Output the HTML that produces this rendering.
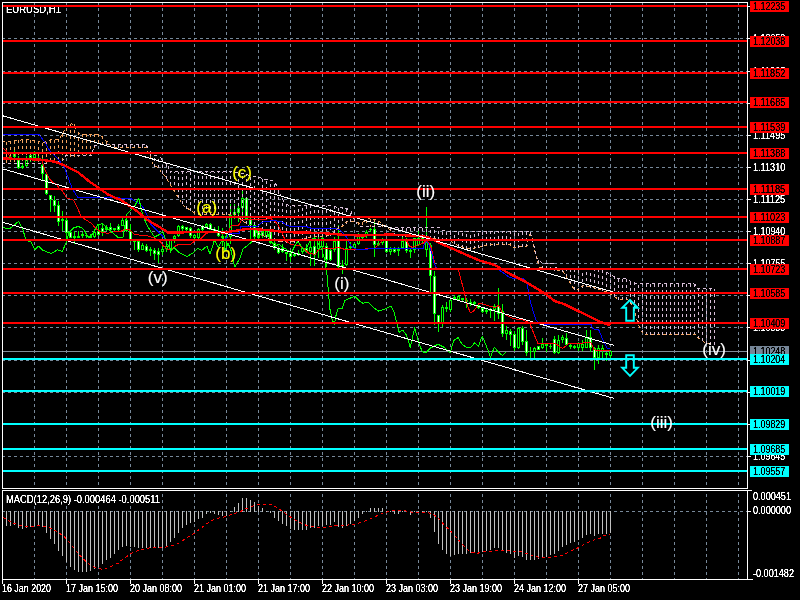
<!DOCTYPE html>
<html><head><meta charset="utf-8"><title>EURUSD,H1</title>
<style>html,body{margin:0;padding:0;background:#000;width:800px;height:600px;overflow:hidden}svg{display:block;will-change:transform}</style>
</head><body>
<svg width="800" height="600" viewBox="0 0 800 600">
<defs><filter id="th" x="0" y="0" width="1" height="1" filterUnits="objectBoundingBox" color-interpolation-filters="sRGB"><feComponentTransfer><feFuncA type="table" tableValues="0 0.05 0.75 1 1 1"/></feComponentTransfer></filter></defs>
<rect width="800" height="600" fill="#000000"/>
<g stroke="#778899" stroke-width="1" stroke-dasharray="3 3" shape-rendering="crispEdges">
<line x1="34.5" y1="2" x2="34.5" y2="488"/>
<line x1="34.5" y1="488" x2="34.5" y2="579"/>
<line x1="66.5" y1="2" x2="66.5" y2="488"/>
<line x1="66.5" y1="488" x2="66.5" y2="579"/>
<line x1="98.5" y1="2" x2="98.5" y2="488"/>
<line x1="98.5" y1="488" x2="98.5" y2="579"/>
<line x1="130.5" y1="2" x2="130.5" y2="488"/>
<line x1="130.5" y1="488" x2="130.5" y2="579"/>
<line x1="162.5" y1="2" x2="162.5" y2="488"/>
<line x1="162.5" y1="488" x2="162.5" y2="579"/>
<line x1="194.5" y1="2" x2="194.5" y2="488"/>
<line x1="194.5" y1="488" x2="194.5" y2="579"/>
<line x1="226.5" y1="2" x2="226.5" y2="488"/>
<line x1="226.5" y1="488" x2="226.5" y2="579"/>
<line x1="258.5" y1="2" x2="258.5" y2="488"/>
<line x1="258.5" y1="488" x2="258.5" y2="579"/>
<line x1="290.5" y1="2" x2="290.5" y2="488"/>
<line x1="290.5" y1="488" x2="290.5" y2="579"/>
<line x1="322.5" y1="2" x2="322.5" y2="488"/>
<line x1="322.5" y1="488" x2="322.5" y2="579"/>
<line x1="354.5" y1="2" x2="354.5" y2="488"/>
<line x1="354.5" y1="488" x2="354.5" y2="579"/>
<line x1="386.5" y1="2" x2="386.5" y2="488"/>
<line x1="386.5" y1="488" x2="386.5" y2="579"/>
<line x1="418.5" y1="2" x2="418.5" y2="488"/>
<line x1="418.5" y1="488" x2="418.5" y2="579"/>
<line x1="450.5" y1="2" x2="450.5" y2="488"/>
<line x1="450.5" y1="488" x2="450.5" y2="579"/>
<line x1="482.5" y1="2" x2="482.5" y2="488"/>
<line x1="482.5" y1="488" x2="482.5" y2="579"/>
<line x1="514.5" y1="2" x2="514.5" y2="488"/>
<line x1="514.5" y1="488" x2="514.5" y2="579"/>
<line x1="546.5" y1="2" x2="546.5" y2="488"/>
<line x1="546.5" y1="488" x2="546.5" y2="579"/>
<line x1="578.5" y1="2" x2="578.5" y2="488"/>
<line x1="578.5" y1="488" x2="578.5" y2="579"/>
<line x1="610.5" y1="2" x2="610.5" y2="488"/>
<line x1="610.5" y1="488" x2="610.5" y2="579"/>
<line x1="642.5" y1="2" x2="642.5" y2="488"/>
<line x1="642.5" y1="488" x2="642.5" y2="579"/>
<line x1="674.5" y1="2" x2="674.5" y2="488"/>
<line x1="674.5" y1="488" x2="674.5" y2="579"/>
<line x1="706.5" y1="2" x2="706.5" y2="488"/>
<line x1="706.5" y1="488" x2="706.5" y2="579"/>
<line x1="738.5" y1="2" x2="738.5" y2="488"/>
<line x1="738.5" y1="488" x2="738.5" y2="579"/>
<line x1="2" y1="38.5" x2="747" y2="38.5"/>
<line x1="2" y1="71.5" x2="747" y2="71.5"/>
<line x1="2" y1="103.5" x2="747" y2="103.5"/>
<line x1="2" y1="135.5" x2="747" y2="135.5"/>
<line x1="2" y1="167.5" x2="747" y2="167.5"/>
<line x1="2" y1="199.5" x2="747" y2="199.5"/>
<line x1="2" y1="231.5" x2="747" y2="231.5"/>
<line x1="2" y1="263.5" x2="747" y2="263.5"/>
<line x1="2" y1="295.5" x2="747" y2="295.5"/>
<line x1="2" y1="327.5" x2="747" y2="327.5"/>
<line x1="2" y1="360.5" x2="747" y2="360.5"/>
<line x1="2" y1="392.5" x2="747" y2="392.5"/>
<line x1="2" y1="424.5" x2="747" y2="424.5"/>
<line x1="2" y1="456.5" x2="747" y2="456.5"/>
<line x1="2" y1="511.5" x2="747" y2="511.5"/>
</g>
<rect x="3" y="351" width="744" height="1" fill="#808C98"/>
<g shape-rendering="crispEdges">
<rect x="6" y="155" width="1" height="5" fill="#00FF00"/>
<rect x="5" y="157" width="3" height="2" fill="#00FF00"/>
<rect x="10" y="156" width="1" height="4" fill="#00FF00"/>
<rect x="9" y="157" width="3" height="2" fill="#00FF00"/>
<rect x="14" y="149" width="1" height="10" fill="#00FF00"/>
<rect x="13" y="154" width="3" height="3" fill="#00FF00"/>
<rect x="14" y="155" width="1" height="1" fill="#FFFFFF"/>
<rect x="18" y="156" width="1" height="13" fill="#00FF00"/>
<rect x="17" y="160" width="3" height="8" fill="#00FF00"/>
<rect x="18" y="161" width="1" height="6" fill="#FFFFFF"/>
<rect x="22" y="164" width="1" height="5" fill="#00FF00"/>
<rect x="21" y="166" width="3" height="2" fill="#00FF00"/>
<rect x="26" y="156" width="1" height="11" fill="#00FF00"/>
<rect x="25" y="160" width="3" height="6" fill="#00FF00"/>
<rect x="26" y="161" width="1" height="4" fill="#000000"/>
<rect x="30" y="154" width="1" height="8" fill="#00FF00"/>
<rect x="29" y="155" width="3" height="3" fill="#00FF00"/>
<rect x="30" y="156" width="1" height="1" fill="#FFFFFF"/>
<rect x="34" y="151" width="1" height="11" fill="#00FF00"/>
<rect x="33" y="154" width="3" height="4" fill="#00FF00"/>
<rect x="34" y="155" width="1" height="2" fill="#000000"/>
<rect x="38" y="154" width="1" height="8" fill="#00FF00"/>
<rect x="37" y="158" width="3" height="2" fill="#00FF00"/>
<rect x="42" y="157" width="1" height="23" fill="#00FF00"/>
<rect x="41" y="165" width="3" height="9" fill="#00FF00"/>
<rect x="42" y="166" width="1" height="7" fill="#FFFFFF"/>
<rect x="46" y="173" width="1" height="22" fill="#00FF00"/>
<rect x="45" y="174" width="3" height="20" fill="#00FF00"/>
<rect x="46" y="175" width="1" height="18" fill="#FFFFFF"/>
<rect x="50" y="195" width="1" height="17" fill="#00FF00"/>
<rect x="49" y="195" width="3" height="5" fill="#00FF00"/>
<rect x="50" y="196" width="1" height="3" fill="#FFFFFF"/>
<rect x="54" y="196" width="1" height="16" fill="#00FF00"/>
<rect x="53" y="200" width="3" height="6" fill="#00FF00"/>
<rect x="54" y="201" width="1" height="4" fill="#FFFFFF"/>
<rect x="58" y="201" width="1" height="25" fill="#00FF00"/>
<rect x="57" y="205" width="3" height="17" fill="#00FF00"/>
<rect x="58" y="206" width="1" height="15" fill="#FFFFFF"/>
<rect x="62" y="211" width="1" height="20" fill="#00FF00"/>
<rect x="61" y="219" width="3" height="2" fill="#00FF00"/>
<rect x="66" y="218" width="1" height="21" fill="#00FF00"/>
<rect x="65" y="220" width="3" height="13" fill="#00FF00"/>
<rect x="66" y="221" width="1" height="11" fill="#FFFFFF"/>
<rect x="70" y="231" width="1" height="7" fill="#00FF00"/>
<rect x="69" y="232" width="3" height="6" fill="#00FF00"/>
<rect x="70" y="233" width="1" height="4" fill="#FFFFFF"/>
<rect x="74" y="231" width="1" height="13" fill="#00FF00"/>
<rect x="73" y="236" width="3" height="2" fill="#00FF00"/>
<rect x="78" y="231" width="1" height="7" fill="#00FF00"/>
<rect x="77" y="236" width="3" height="2" fill="#00FF00"/>
<rect x="82" y="232" width="1" height="6" fill="#00FF00"/>
<rect x="81" y="234" width="3" height="2" fill="#00FF00"/>
<rect x="86" y="233" width="1" height="5" fill="#00FF00"/>
<rect x="85" y="235" width="3" height="1" fill="#00FF00"/>
<rect x="90" y="234" width="1" height="4" fill="#00FF00"/>
<rect x="89" y="236" width="3" height="2" fill="#00FF00"/>
<rect x="94" y="231" width="1" height="7" fill="#00FF00"/>
<rect x="93" y="232" width="3" height="5" fill="#00FF00"/>
<rect x="94" y="233" width="1" height="3" fill="#000000"/>
<rect x="98" y="224" width="1" height="12" fill="#00FF00"/>
<rect x="97" y="231" width="3" height="4" fill="#00FF00"/>
<rect x="98" y="232" width="1" height="2" fill="#FFFFFF"/>
<rect x="102" y="224" width="1" height="12" fill="#00FF00"/>
<rect x="101" y="228" width="3" height="4" fill="#00FF00"/>
<rect x="102" y="229" width="1" height="2" fill="#FFFFFF"/>
<rect x="106" y="225" width="1" height="6" fill="#00FF00"/>
<rect x="105" y="227" width="3" height="3" fill="#00FF00"/>
<rect x="106" y="228" width="1" height="1" fill="#000000"/>
<rect x="110" y="223" width="1" height="8" fill="#00FF00"/>
<rect x="109" y="227" width="3" height="3" fill="#00FF00"/>
<rect x="110" y="228" width="1" height="1" fill="#FFFFFF"/>
<rect x="114" y="228" width="1" height="4" fill="#00FF00"/>
<rect x="113" y="228" width="3" height="2" fill="#00FF00"/>
<rect x="118" y="224" width="1" height="7" fill="#00FF00"/>
<rect x="117" y="226" width="3" height="4" fill="#00FF00"/>
<rect x="118" y="227" width="1" height="2" fill="#FFFFFF"/>
<rect x="122" y="218" width="1" height="8" fill="#00FF00"/>
<rect x="121" y="220" width="3" height="6" fill="#00FF00"/>
<rect x="122" y="221" width="1" height="4" fill="#000000"/>
<rect x="126" y="218" width="1" height="14" fill="#00FF00"/>
<rect x="125" y="220" width="3" height="11" fill="#00FF00"/>
<rect x="126" y="221" width="1" height="9" fill="#FFFFFF"/>
<rect x="130" y="224" width="1" height="18" fill="#00FF00"/>
<rect x="129" y="231" width="3" height="9" fill="#00FF00"/>
<rect x="130" y="232" width="1" height="7" fill="#FFFFFF"/>
<rect x="134" y="240" width="1" height="10" fill="#00FF00"/>
<rect x="133" y="240" width="3" height="2" fill="#00FF00"/>
<rect x="138" y="239" width="1" height="13" fill="#00FF00"/>
<rect x="137" y="241" width="3" height="9" fill="#00FF00"/>
<rect x="138" y="242" width="1" height="7" fill="#FFFFFF"/>
<rect x="142" y="243" width="1" height="7" fill="#00FF00"/>
<rect x="141" y="245" width="3" height="5" fill="#00FF00"/>
<rect x="142" y="246" width="1" height="3" fill="#000000"/>
<rect x="146" y="244" width="1" height="8" fill="#00FF00"/>
<rect x="145" y="246" width="3" height="5" fill="#00FF00"/>
<rect x="146" y="247" width="1" height="3" fill="#FFFFFF"/>
<rect x="150" y="247" width="1" height="9" fill="#00FF00"/>
<rect x="149" y="249" width="3" height="2" fill="#00FF00"/>
<rect x="154" y="248" width="1" height="12" fill="#00FF00"/>
<rect x="153" y="250" width="3" height="4" fill="#00FF00"/>
<rect x="154" y="251" width="1" height="2" fill="#FFFFFF"/>
<rect x="158" y="248" width="1" height="15" fill="#00FF00"/>
<rect x="157" y="251" width="3" height="4" fill="#00FF00"/>
<rect x="158" y="252" width="1" height="2" fill="#FFFFFF"/>
<rect x="162" y="246" width="1" height="9" fill="#00FF00"/>
<rect x="161" y="249" width="3" height="3" fill="#00FF00"/>
<rect x="162" y="250" width="1" height="1" fill="#000000"/>
<rect x="166" y="243" width="1" height="9" fill="#00FF00"/>
<rect x="165" y="246" width="3" height="3" fill="#00FF00"/>
<rect x="166" y="247" width="1" height="1" fill="#000000"/>
<rect x="170" y="239" width="1" height="14" fill="#00FF00"/>
<rect x="169" y="240" width="3" height="10" fill="#00FF00"/>
<rect x="170" y="241" width="1" height="8" fill="#000000"/>
<rect x="174" y="235" width="1" height="8" fill="#00FF00"/>
<rect x="173" y="236" width="3" height="3" fill="#00FF00"/>
<rect x="174" y="237" width="1" height="1" fill="#000000"/>
<rect x="178" y="225" width="1" height="12" fill="#00FF00"/>
<rect x="177" y="226" width="3" height="10" fill="#00FF00"/>
<rect x="178" y="227" width="1" height="8" fill="#000000"/>
<rect x="182" y="225" width="1" height="7" fill="#00FF00"/>
<rect x="181" y="226" width="3" height="3" fill="#00FF00"/>
<rect x="182" y="227" width="1" height="1" fill="#FFFFFF"/>
<rect x="186" y="227" width="1" height="5" fill="#00FF00"/>
<rect x="185" y="227" width="3" height="3" fill="#00FF00"/>
<rect x="186" y="228" width="1" height="1" fill="#FFFFFF"/>
<rect x="190" y="227" width="1" height="11" fill="#00FF00"/>
<rect x="189" y="228" width="3" height="8" fill="#00FF00"/>
<rect x="190" y="229" width="1" height="6" fill="#FFFFFF"/>
<rect x="194" y="234" width="1" height="5" fill="#00FF00"/>
<rect x="193" y="235" width="3" height="3" fill="#00FF00"/>
<rect x="194" y="236" width="1" height="1" fill="#000000"/>
<rect x="198" y="228" width="1" height="11" fill="#00FF00"/>
<rect x="197" y="229" width="3" height="9" fill="#00FF00"/>
<rect x="198" y="230" width="1" height="7" fill="#000000"/>
<rect x="202" y="225" width="1" height="7" fill="#00FF00"/>
<rect x="201" y="226" width="3" height="4" fill="#00FF00"/>
<rect x="202" y="227" width="1" height="2" fill="#FFFFFF"/>
<rect x="206" y="223" width="1" height="5" fill="#00FF00"/>
<rect x="205" y="224" width="3" height="3" fill="#00FF00"/>
<rect x="206" y="225" width="1" height="1" fill="#000000"/>
<rect x="210" y="223" width="1" height="7" fill="#00FF00"/>
<rect x="209" y="224" width="3" height="6" fill="#00FF00"/>
<rect x="210" y="225" width="1" height="4" fill="#FFFFFF"/>
<rect x="214" y="227" width="1" height="4" fill="#00FF00"/>
<rect x="213" y="229" width="3" height="2" fill="#00FF00"/>
<rect x="218" y="226" width="1" height="11" fill="#00FF00"/>
<rect x="217" y="232" width="3" height="4" fill="#00FF00"/>
<rect x="218" y="233" width="1" height="2" fill="#FFFFFF"/>
<rect x="222" y="228" width="1" height="18" fill="#00FF00"/>
<rect x="221" y="236" width="3" height="2" fill="#00FF00"/>
<rect x="226" y="232" width="1" height="15" fill="#00FF00"/>
<rect x="225" y="236" width="3" height="2" fill="#00FF00"/>
<rect x="230" y="204" width="1" height="40" fill="#00FF00"/>
<rect x="229" y="215" width="3" height="22" fill="#00FF00"/>
<rect x="230" y="216" width="1" height="20" fill="#000000"/>
<rect x="234" y="204" width="1" height="15" fill="#00FF00"/>
<rect x="233" y="212" width="3" height="3" fill="#00FF00"/>
<rect x="234" y="213" width="1" height="1" fill="#000000"/>
<rect x="238" y="206" width="1" height="16" fill="#00FF00"/>
<rect x="237" y="208" width="3" height="5" fill="#00FF00"/>
<rect x="238" y="209" width="1" height="3" fill="#000000"/>
<rect x="242" y="190" width="1" height="29" fill="#00FF00"/>
<rect x="241" y="198" width="3" height="10" fill="#00FF00"/>
<rect x="242" y="199" width="1" height="8" fill="#000000"/>
<rect x="246" y="198" width="1" height="22" fill="#00FF00"/>
<rect x="245" y="198" width="3" height="21" fill="#00FF00"/>
<rect x="246" y="199" width="1" height="19" fill="#FFFFFF"/>
<rect x="250" y="215" width="1" height="25" fill="#00FF00"/>
<rect x="249" y="219" width="3" height="6" fill="#00FF00"/>
<rect x="250" y="220" width="1" height="4" fill="#FFFFFF"/>
<rect x="254" y="222" width="1" height="18" fill="#00FF00"/>
<rect x="253" y="225" width="3" height="12" fill="#00FF00"/>
<rect x="254" y="226" width="1" height="10" fill="#FFFFFF"/>
<rect x="258" y="230" width="1" height="9" fill="#00FF00"/>
<rect x="257" y="231" width="3" height="7" fill="#00FF00"/>
<rect x="258" y="232" width="1" height="5" fill="#FFFFFF"/>
<rect x="262" y="230" width="1" height="8" fill="#00FF00"/>
<rect x="261" y="232" width="3" height="4" fill="#00FF00"/>
<rect x="262" y="233" width="1" height="2" fill="#FFFFFF"/>
<rect x="266" y="229" width="1" height="9" fill="#00FF00"/>
<rect x="265" y="231" width="3" height="6" fill="#00FF00"/>
<rect x="266" y="232" width="1" height="4" fill="#000000"/>
<rect x="270" y="230" width="1" height="14" fill="#00FF00"/>
<rect x="269" y="230" width="3" height="13" fill="#00FF00"/>
<rect x="270" y="231" width="1" height="11" fill="#FFFFFF"/>
<rect x="274" y="241" width="1" height="9" fill="#00FF00"/>
<rect x="273" y="243" width="3" height="5" fill="#00FF00"/>
<rect x="274" y="244" width="1" height="3" fill="#FFFFFF"/>
<rect x="278" y="246" width="1" height="8" fill="#00FF00"/>
<rect x="277" y="248" width="3" height="5" fill="#00FF00"/>
<rect x="278" y="249" width="1" height="3" fill="#FFFFFF"/>
<rect x="282" y="244" width="1" height="9" fill="#00FF00"/>
<rect x="281" y="248" width="3" height="4" fill="#00FF00"/>
<rect x="282" y="249" width="1" height="2" fill="#FFFFFF"/>
<rect x="286" y="252" width="1" height="9" fill="#00FF00"/>
<rect x="285" y="252" width="3" height="2" fill="#00FF00"/>
<rect x="290" y="250" width="1" height="12" fill="#00FF00"/>
<rect x="289" y="253" width="3" height="4" fill="#00FF00"/>
<rect x="290" y="254" width="1" height="2" fill="#FFFFFF"/>
<rect x="294" y="252" width="1" height="5" fill="#00FF00"/>
<rect x="293" y="254" width="3" height="2" fill="#00FF00"/>
<rect x="298" y="250" width="1" height="6" fill="#00FF00"/>
<rect x="297" y="253" width="3" height="1" fill="#00FF00"/>
<rect x="302" y="247" width="1" height="7" fill="#00FF00"/>
<rect x="301" y="248" width="3" height="4" fill="#00FF00"/>
<rect x="302" y="249" width="1" height="2" fill="#000000"/>
<rect x="306" y="244" width="1" height="9" fill="#00FF00"/>
<rect x="305" y="248" width="3" height="4" fill="#00FF00"/>
<rect x="306" y="249" width="1" height="2" fill="#FFFFFF"/>
<rect x="310" y="242" width="1" height="24" fill="#00FF00"/>
<rect x="309" y="247" width="3" height="5" fill="#00FF00"/>
<rect x="310" y="248" width="1" height="3" fill="#000000"/>
<rect x="314" y="238" width="1" height="28" fill="#00FF00"/>
<rect x="313" y="246" width="3" height="9" fill="#00FF00"/>
<rect x="314" y="247" width="1" height="7" fill="#FFFFFF"/>
<rect x="318" y="237" width="1" height="21" fill="#00FF00"/>
<rect x="317" y="239" width="3" height="10" fill="#00FF00"/>
<rect x="318" y="240" width="1" height="8" fill="#000000"/>
<rect x="322" y="236" width="1" height="22" fill="#00FF00"/>
<rect x="321" y="238" width="3" height="9" fill="#00FF00"/>
<rect x="322" y="239" width="1" height="7" fill="#000000"/>
<rect x="326" y="243" width="1" height="24" fill="#00FF00"/>
<rect x="325" y="246" width="3" height="14" fill="#00FF00"/>
<rect x="326" y="247" width="1" height="12" fill="#FFFFFF"/>
<rect x="330" y="249" width="1" height="12" fill="#00FF00"/>
<rect x="329" y="250" width="3" height="10" fill="#00FF00"/>
<rect x="330" y="251" width="1" height="8" fill="#FFFFFF"/>
<rect x="334" y="237" width="1" height="15" fill="#00FF00"/>
<rect x="333" y="241" width="3" height="9" fill="#00FF00"/>
<rect x="334" y="242" width="1" height="7" fill="#000000"/>
<rect x="338" y="225" width="1" height="43" fill="#00FF00"/>
<rect x="337" y="240" width="3" height="27" fill="#00FF00"/>
<rect x="338" y="241" width="1" height="25" fill="#FFFFFF"/>
<rect x="342" y="260" width="1" height="14" fill="#00FF00"/>
<rect x="341" y="265" width="3" height="2" fill="#00FF00"/>
<rect x="346" y="240" width="1" height="26" fill="#00FF00"/>
<rect x="345" y="248" width="3" height="17" fill="#00FF00"/>
<rect x="346" y="249" width="1" height="15" fill="#000000"/>
<rect x="350" y="242" width="1" height="8" fill="#00FF00"/>
<rect x="349" y="246" width="3" height="2" fill="#00FF00"/>
<rect x="354" y="243" width="1" height="5" fill="#00FF00"/>
<rect x="353" y="244" width="3" height="4" fill="#00FF00"/>
<rect x="354" y="245" width="1" height="2" fill="#000000"/>
<rect x="358" y="233" width="1" height="12" fill="#00FF00"/>
<rect x="357" y="236" width="3" height="8" fill="#00FF00"/>
<rect x="358" y="237" width="1" height="6" fill="#000000"/>
<rect x="362" y="235" width="1" height="6" fill="#00FF00"/>
<rect x="361" y="236" width="3" height="2" fill="#00FF00"/>
<rect x="366" y="230" width="1" height="8" fill="#00FF00"/>
<rect x="365" y="232" width="3" height="4" fill="#00FF00"/>
<rect x="366" y="233" width="1" height="2" fill="#000000"/>
<rect x="370" y="228" width="1" height="4" fill="#00FF00"/>
<rect x="369" y="229" width="3" height="1" fill="#00FF00"/>
<rect x="374" y="222" width="1" height="35" fill="#00FF00"/>
<rect x="373" y="229" width="3" height="16" fill="#00FF00"/>
<rect x="374" y="230" width="1" height="14" fill="#FFFFFF"/>
<rect x="378" y="240" width="1" height="6" fill="#00FF00"/>
<rect x="377" y="243" width="3" height="2" fill="#00FF00"/>
<rect x="382" y="238" width="1" height="7" fill="#00FF00"/>
<rect x="381" y="240" width="3" height="3" fill="#00FF00"/>
<rect x="382" y="241" width="1" height="1" fill="#000000"/>
<rect x="386" y="239" width="1" height="14" fill="#00FF00"/>
<rect x="385" y="240" width="3" height="12" fill="#00FF00"/>
<rect x="386" y="241" width="1" height="10" fill="#FFFFFF"/>
<rect x="390" y="247" width="1" height="8" fill="#00FF00"/>
<rect x="389" y="249" width="3" height="3" fill="#00FF00"/>
<rect x="390" y="250" width="1" height="1" fill="#000000"/>
<rect x="394" y="247" width="1" height="6" fill="#00FF00"/>
<rect x="393" y="249" width="3" height="3" fill="#00FF00"/>
<rect x="394" y="250" width="1" height="1" fill="#FFFFFF"/>
<rect x="398" y="247" width="1" height="9" fill="#00FF00"/>
<rect x="397" y="249" width="3" height="2" fill="#00FF00"/>
<rect x="402" y="236" width="1" height="13" fill="#00FF00"/>
<rect x="401" y="241" width="3" height="7" fill="#00FF00"/>
<rect x="402" y="242" width="1" height="5" fill="#000000"/>
<rect x="406" y="238" width="1" height="15" fill="#00FF00"/>
<rect x="405" y="240" width="3" height="11" fill="#00FF00"/>
<rect x="406" y="241" width="1" height="9" fill="#FFFFFF"/>
<rect x="410" y="248" width="1" height="10" fill="#00FF00"/>
<rect x="409" y="250" width="3" height="2" fill="#00FF00"/>
<rect x="414" y="238" width="1" height="15" fill="#00FF00"/>
<rect x="413" y="238" width="3" height="12" fill="#00FF00"/>
<rect x="414" y="239" width="1" height="10" fill="#000000"/>
<rect x="418" y="231" width="1" height="15" fill="#00FF00"/>
<rect x="417" y="238" width="3" height="7" fill="#00FF00"/>
<rect x="418" y="239" width="1" height="5" fill="#000000"/>
<rect x="422" y="236" width="1" height="8" fill="#00FF00"/>
<rect x="421" y="238" width="3" height="2" fill="#00FF00"/>
<rect x="426" y="207" width="1" height="50" fill="#00FF00"/>
<rect x="425" y="242" width="3" height="8" fill="#00FF00"/>
<rect x="426" y="243" width="1" height="6" fill="#000000"/>
<rect x="430" y="243" width="1" height="49" fill="#00FF00"/>
<rect x="429" y="245" width="3" height="31" fill="#00FF00"/>
<rect x="430" y="246" width="1" height="29" fill="#FFFFFF"/>
<rect x="434" y="271" width="1" height="54" fill="#00FF00"/>
<rect x="433" y="276" width="3" height="38" fill="#00FF00"/>
<rect x="434" y="277" width="1" height="36" fill="#FFFFFF"/>
<rect x="438" y="315" width="1" height="17" fill="#00FF00"/>
<rect x="437" y="315" width="3" height="9" fill="#00FF00"/>
<rect x="438" y="316" width="1" height="7" fill="#FFFFFF"/>
<rect x="442" y="305" width="1" height="22" fill="#00FF00"/>
<rect x="441" y="307" width="3" height="17" fill="#00FF00"/>
<rect x="442" y="308" width="1" height="15" fill="#000000"/>
<rect x="446" y="302" width="1" height="10" fill="#00FF00"/>
<rect x="445" y="307" width="3" height="2" fill="#00FF00"/>
<rect x="450" y="298" width="1" height="14" fill="#00FF00"/>
<rect x="449" y="300" width="3" height="10" fill="#00FF00"/>
<rect x="450" y="301" width="1" height="8" fill="#000000"/>
<rect x="454" y="295" width="1" height="5" fill="#00FF00"/>
<rect x="453" y="297" width="3" height="2" fill="#00FF00"/>
<rect x="458" y="295" width="1" height="6" fill="#00FF00"/>
<rect x="457" y="296" width="3" height="4" fill="#00FF00"/>
<rect x="458" y="297" width="1" height="2" fill="#000000"/>
<rect x="462" y="298" width="1" height="4" fill="#00FF00"/>
<rect x="461" y="298" width="3" height="2" fill="#00FF00"/>
<rect x="466" y="298" width="1" height="10" fill="#00FF00"/>
<rect x="465" y="300" width="3" height="2" fill="#00FF00"/>
<rect x="470" y="299" width="1" height="7" fill="#00FF00"/>
<rect x="469" y="302" width="3" height="2" fill="#00FF00"/>
<rect x="474" y="301" width="1" height="4" fill="#00FF00"/>
<rect x="473" y="302" width="3" height="2" fill="#00FF00"/>
<rect x="478" y="303" width="1" height="6" fill="#00FF00"/>
<rect x="477" y="305" width="3" height="3" fill="#00FF00"/>
<rect x="478" y="306" width="1" height="1" fill="#000000"/>
<rect x="482" y="307" width="1" height="6" fill="#00FF00"/>
<rect x="481" y="308" width="3" height="4" fill="#00FF00"/>
<rect x="482" y="309" width="1" height="2" fill="#FFFFFF"/>
<rect x="486" y="309" width="1" height="5" fill="#00FF00"/>
<rect x="485" y="310" width="3" height="2" fill="#00FF00"/>
<rect x="490" y="308" width="1" height="10" fill="#00FF00"/>
<rect x="489" y="309" width="3" height="2" fill="#00FF00"/>
<rect x="494" y="304" width="1" height="17" fill="#00FF00"/>
<rect x="493" y="306" width="3" height="4" fill="#00FF00"/>
<rect x="494" y="307" width="1" height="2" fill="#000000"/>
<rect x="498" y="288" width="1" height="31" fill="#00FF00"/>
<rect x="497" y="306" width="3" height="8" fill="#00FF00"/>
<rect x="498" y="307" width="1" height="6" fill="#FFFFFF"/>
<rect x="502" y="304" width="1" height="33" fill="#00FF00"/>
<rect x="501" y="311" width="3" height="23" fill="#00FF00"/>
<rect x="502" y="312" width="1" height="21" fill="#FFFFFF"/>
<rect x="506" y="326" width="1" height="14" fill="#00FF00"/>
<rect x="505" y="330" width="3" height="4" fill="#00FF00"/>
<rect x="506" y="331" width="1" height="2" fill="#000000"/>
<rect x="510" y="329" width="1" height="17" fill="#00FF00"/>
<rect x="509" y="331" width="3" height="4" fill="#00FF00"/>
<rect x="510" y="332" width="1" height="2" fill="#FFFFFF"/>
<rect x="514" y="331" width="1" height="20" fill="#00FF00"/>
<rect x="513" y="334" width="3" height="14" fill="#00FF00"/>
<rect x="514" y="335" width="1" height="12" fill="#FFFFFF"/>
<rect x="518" y="327" width="1" height="22" fill="#00FF00"/>
<rect x="517" y="328" width="3" height="20" fill="#00FF00"/>
<rect x="518" y="329" width="1" height="18" fill="#000000"/>
<rect x="522" y="326" width="1" height="19" fill="#00FF00"/>
<rect x="521" y="328" width="3" height="14" fill="#00FF00"/>
<rect x="522" y="329" width="1" height="12" fill="#FFFFFF"/>
<rect x="526" y="330" width="1" height="26" fill="#00FF00"/>
<rect x="525" y="341" width="3" height="12" fill="#00FF00"/>
<rect x="526" y="342" width="1" height="10" fill="#FFFFFF"/>
<rect x="530" y="347" width="1" height="13" fill="#00FF00"/>
<rect x="529" y="351" width="3" height="1" fill="#00FF00"/>
<rect x="534" y="347" width="1" height="11" fill="#00FF00"/>
<rect x="533" y="348" width="3" height="4" fill="#00FF00"/>
<rect x="534" y="349" width="1" height="2" fill="#000000"/>
<rect x="538" y="346" width="1" height="4" fill="#00FF00"/>
<rect x="537" y="346" width="3" height="4" fill="#00FF00"/>
<rect x="538" y="347" width="1" height="2" fill="#FFFFFF"/>
<rect x="542" y="338" width="1" height="11" fill="#00FF00"/>
<rect x="541" y="344" width="3" height="4" fill="#00FF00"/>
<rect x="542" y="345" width="1" height="2" fill="#000000"/>
<rect x="546" y="344" width="1" height="8" fill="#00FF00"/>
<rect x="545" y="344" width="3" height="2" fill="#00FF00"/>
<rect x="550" y="344" width="1" height="5" fill="#00FF00"/>
<rect x="549" y="346" width="3" height="1" fill="#00FF00"/>
<rect x="554" y="336" width="1" height="18" fill="#00FF00"/>
<rect x="553" y="339" width="3" height="14" fill="#00FF00"/>
<rect x="554" y="340" width="1" height="12" fill="#FFFFFF"/>
<rect x="558" y="335" width="1" height="19" fill="#00FF00"/>
<rect x="557" y="340" width="3" height="13" fill="#00FF00"/>
<rect x="558" y="341" width="1" height="11" fill="#000000"/>
<rect x="562" y="335" width="1" height="8" fill="#00FF00"/>
<rect x="561" y="337" width="3" height="3" fill="#00FF00"/>
<rect x="562" y="338" width="1" height="1" fill="#000000"/>
<rect x="566" y="333" width="1" height="13" fill="#00FF00"/>
<rect x="565" y="338" width="3" height="7" fill="#00FF00"/>
<rect x="566" y="339" width="1" height="5" fill="#FFFFFF"/>
<rect x="570" y="344" width="1" height="5" fill="#00FF00"/>
<rect x="569" y="345" width="3" height="2" fill="#00FF00"/>
<rect x="574" y="345" width="1" height="4" fill="#00FF00"/>
<rect x="573" y="346" width="3" height="2" fill="#00FF00"/>
<rect x="578" y="342" width="1" height="9" fill="#00FF00"/>
<rect x="577" y="343" width="3" height="5" fill="#00FF00"/>
<rect x="578" y="344" width="1" height="3" fill="#000000"/>
<rect x="582" y="340" width="1" height="11" fill="#00FF00"/>
<rect x="581" y="344" width="3" height="4" fill="#00FF00"/>
<rect x="582" y="345" width="1" height="2" fill="#000000"/>
<rect x="586" y="330" width="1" height="18" fill="#00FF00"/>
<rect x="585" y="337" width="3" height="11" fill="#00FF00"/>
<rect x="586" y="338" width="1" height="9" fill="#000000"/>
<rect x="590" y="330" width="1" height="22" fill="#00FF00"/>
<rect x="589" y="337" width="3" height="11" fill="#00FF00"/>
<rect x="590" y="338" width="1" height="9" fill="#FFFFFF"/>
<rect x="594" y="347" width="1" height="23" fill="#00FF00"/>
<rect x="593" y="348" width="3" height="10" fill="#00FF00"/>
<rect x="594" y="349" width="1" height="8" fill="#FFFFFF"/>
<rect x="598" y="345" width="1" height="19" fill="#00FF00"/>
<rect x="597" y="348" width="3" height="10" fill="#00FF00"/>
<rect x="598" y="349" width="1" height="8" fill="#000000"/>
<rect x="602" y="345" width="1" height="13" fill="#00FF00"/>
<rect x="601" y="348" width="3" height="3" fill="#00FF00"/>
<rect x="602" y="349" width="1" height="1" fill="#000000"/>
<rect x="606" y="352" width="1" height="9" fill="#00FF00"/>
<rect x="605" y="353" width="3" height="2" fill="#00FF00"/>
<rect x="610" y="351" width="1" height="7" fill="#00FF00"/>
<rect x="609" y="351" width="3" height="5" fill="#00FF00"/>
<rect x="610" y="352" width="1" height="3" fill="#000000"/>
</g>
<g shape-rendering="crispEdges" stroke-width="1" stroke-dasharray="3 3" fill="none">
<line x1="6.5" y1="142" x2="6.5" y2="164" stroke="#F4A460"/>
<line x1="10.5" y1="141" x2="10.5" y2="164" stroke="#F4A460"/>
<line x1="14.5" y1="141" x2="14.5" y2="164" stroke="#F4A460"/>
<line x1="18.5" y1="140" x2="18.5" y2="164" stroke="#F4A460"/>
<line x1="22.5" y1="140" x2="22.5" y2="164" stroke="#F4A460"/>
<line x1="26.5" y1="140" x2="26.5" y2="164" stroke="#F4A460"/>
<line x1="30.5" y1="140" x2="30.5" y2="164" stroke="#F4A460"/>
<line x1="34.5" y1="140" x2="34.5" y2="164" stroke="#F4A460"/>
<line x1="38.5" y1="141" x2="38.5" y2="164" stroke="#F4A460"/>
<line x1="42.5" y1="143" x2="42.5" y2="164" stroke="#F4A460"/>
<line x1="46.5" y1="142" x2="46.5" y2="164" stroke="#F4A460"/>
<line x1="50.5" y1="140" x2="50.5" y2="163" stroke="#F4A460"/>
<line x1="54.5" y1="140" x2="54.5" y2="162" stroke="#F4A460"/>
<line x1="58.5" y1="139" x2="58.5" y2="162" stroke="#F4A460"/>
<line x1="62.5" y1="134" x2="62.5" y2="162" stroke="#F4A460"/>
<line x1="66.5" y1="128" x2="66.5" y2="157" stroke="#F4A460"/>
<line x1="70.5" y1="124" x2="70.5" y2="157" stroke="#F4A460"/>
<line x1="74.5" y1="124" x2="74.5" y2="157" stroke="#F4A460"/>
<line x1="78.5" y1="132" x2="78.5" y2="157" stroke="#F4A460"/>
<line x1="82.5" y1="134" x2="82.5" y2="157" stroke="#F4A460"/>
<line x1="86.5" y1="134" x2="86.5" y2="157" stroke="#F4A460"/>
<line x1="90.5" y1="134" x2="90.5" y2="157" stroke="#F4A460"/>
<line x1="94.5" y1="134" x2="94.5" y2="148" stroke="#F4A460"/>
<line x1="98.5" y1="134" x2="98.5" y2="145" stroke="#F4A460"/>
<line x1="102.5" y1="136" x2="102.5" y2="145" stroke="#F4A460"/>
<line x1="106.5" y1="141" x2="106.5" y2="145" stroke="#F4A460"/>
<line x1="114.5" y1="148" x2="114.5" y2="144" stroke="#D8BFD8"/>
<line x1="118.5" y1="148" x2="118.5" y2="144" stroke="#D8BFD8"/>
<line x1="122.5" y1="148" x2="122.5" y2="144" stroke="#D8BFD8"/>
<line x1="126.5" y1="148" x2="126.5" y2="144" stroke="#D8BFD8"/>
<line x1="130.5" y1="148" x2="130.5" y2="144" stroke="#D8BFD8"/>
<line x1="134.5" y1="148" x2="134.5" y2="144" stroke="#D8BFD8"/>
<line x1="138.5" y1="148" x2="138.5" y2="144" stroke="#D8BFD8"/>
<line x1="142.5" y1="148" x2="142.5" y2="144" stroke="#D8BFD8"/>
<line x1="146.5" y1="148" x2="146.5" y2="144" stroke="#D8BFD8"/>
<line x1="150.5" y1="157" x2="150.5" y2="151" stroke="#D8BFD8"/>
<line x1="154.5" y1="167" x2="154.5" y2="155" stroke="#D8BFD8"/>
<line x1="158.5" y1="168" x2="158.5" y2="156" stroke="#D8BFD8"/>
<line x1="162.5" y1="174" x2="162.5" y2="160" stroke="#D8BFD8"/>
<line x1="166.5" y1="179" x2="166.5" y2="164" stroke="#D8BFD8"/>
<line x1="170.5" y1="185" x2="170.5" y2="172" stroke="#D8BFD8"/>
<line x1="174.5" y1="191" x2="174.5" y2="172" stroke="#D8BFD8"/>
<line x1="178.5" y1="198" x2="178.5" y2="172" stroke="#D8BFD8"/>
<line x1="182.5" y1="204" x2="182.5" y2="172" stroke="#D8BFD8"/>
<line x1="186.5" y1="209" x2="186.5" y2="172" stroke="#D8BFD8"/>
<line x1="190.5" y1="211" x2="190.5" y2="172" stroke="#D8BFD8"/>
<line x1="194.5" y1="214" x2="194.5" y2="172" stroke="#D8BFD8"/>
<line x1="198.5" y1="215" x2="198.5" y2="172" stroke="#D8BFD8"/>
<line x1="202.5" y1="215" x2="202.5" y2="172" stroke="#D8BFD8"/>
<line x1="206.5" y1="215" x2="206.5" y2="172" stroke="#D8BFD8"/>
<line x1="210.5" y1="215" x2="210.5" y2="172" stroke="#D8BFD8"/>
<line x1="214.5" y1="215" x2="214.5" y2="172" stroke="#D8BFD8"/>
<line x1="218.5" y1="215" x2="218.5" y2="172" stroke="#D8BFD8"/>
<line x1="222.5" y1="215" x2="222.5" y2="172" stroke="#D8BFD8"/>
<line x1="226.5" y1="215" x2="226.5" y2="172" stroke="#D8BFD8"/>
<line x1="230.5" y1="215" x2="230.5" y2="172" stroke="#D8BFD8"/>
<line x1="234.5" y1="215" x2="234.5" y2="172" stroke="#D8BFD8"/>
<line x1="238.5" y1="218" x2="238.5" y2="173" stroke="#D8BFD8"/>
<line x1="242.5" y1="221" x2="242.5" y2="174" stroke="#D8BFD8"/>
<line x1="246.5" y1="224" x2="246.5" y2="174" stroke="#D8BFD8"/>
<line x1="250.5" y1="228" x2="250.5" y2="175" stroke="#D8BFD8"/>
<line x1="254.5" y1="231" x2="254.5" y2="176" stroke="#D8BFD8"/>
<line x1="258.5" y1="233" x2="258.5" y2="177" stroke="#D8BFD8"/>
<line x1="262.5" y1="236" x2="262.5" y2="178" stroke="#D8BFD8"/>
<line x1="266.5" y1="238" x2="266.5" y2="180" stroke="#D8BFD8"/>
<line x1="270.5" y1="241" x2="270.5" y2="180" stroke="#D8BFD8"/>
<line x1="274.5" y1="241" x2="274.5" y2="182" stroke="#D8BFD8"/>
<line x1="278.5" y1="242" x2="278.5" y2="188" stroke="#D8BFD8"/>
<line x1="282.5" y1="242" x2="282.5" y2="198" stroke="#D8BFD8"/>
<line x1="286.5" y1="243" x2="286.5" y2="204" stroke="#D8BFD8"/>
<line x1="290.5" y1="243" x2="290.5" y2="206" stroke="#D8BFD8"/>
<line x1="294.5" y1="243" x2="294.5" y2="206" stroke="#D8BFD8"/>
<line x1="298.5" y1="242" x2="298.5" y2="206" stroke="#D8BFD8"/>
<line x1="302.5" y1="241" x2="302.5" y2="206" stroke="#D8BFD8"/>
<line x1="306.5" y1="239" x2="306.5" y2="206" stroke="#D8BFD8"/>
<line x1="310.5" y1="238" x2="310.5" y2="206" stroke="#D8BFD8"/>
<line x1="314.5" y1="237" x2="314.5" y2="206" stroke="#D8BFD8"/>
<line x1="318.5" y1="237" x2="318.5" y2="206" stroke="#D8BFD8"/>
<line x1="322.5" y1="237" x2="322.5" y2="206" stroke="#D8BFD8"/>
<line x1="326.5" y1="237" x2="326.5" y2="206" stroke="#D8BFD8"/>
<line x1="330.5" y1="236" x2="330.5" y2="206" stroke="#D8BFD8"/>
<line x1="334.5" y1="233" x2="334.5" y2="207" stroke="#D8BFD8"/>
<line x1="338.5" y1="229" x2="338.5" y2="207" stroke="#D8BFD8"/>
<line x1="342.5" y1="227" x2="342.5" y2="208" stroke="#D8BFD8"/>
<line x1="346.5" y1="224" x2="346.5" y2="208" stroke="#D8BFD8"/>
<line x1="350.5" y1="222" x2="350.5" y2="210" stroke="#D8BFD8"/>
<line x1="354.5" y1="222" x2="354.5" y2="219" stroke="#D8BFD8"/>
<line x1="358.5" y1="222" x2="358.5" y2="226" stroke="#F4A460"/>
<line x1="362.5" y1="222" x2="362.5" y2="227" stroke="#F4A460"/>
<line x1="366.5" y1="220" x2="366.5" y2="227" stroke="#F4A460"/>
<line x1="370.5" y1="219" x2="370.5" y2="227" stroke="#F4A460"/>
<line x1="374.5" y1="219" x2="374.5" y2="227" stroke="#F4A460"/>
<line x1="378.5" y1="221" x2="378.5" y2="227" stroke="#F4A460"/>
<line x1="382.5" y1="224" x2="382.5" y2="227" stroke="#F4A460"/>
<line x1="390.5" y1="231" x2="390.5" y2="228" stroke="#D8BFD8"/>
<line x1="394.5" y1="236" x2="394.5" y2="228" stroke="#D8BFD8"/>
<line x1="398.5" y1="237" x2="398.5" y2="228" stroke="#D8BFD8"/>
<line x1="402.5" y1="237" x2="402.5" y2="228" stroke="#D8BFD8"/>
<line x1="406.5" y1="237" x2="406.5" y2="228" stroke="#D8BFD8"/>
<line x1="410.5" y1="237" x2="410.5" y2="228" stroke="#D8BFD8"/>
<line x1="414.5" y1="237" x2="414.5" y2="228" stroke="#D8BFD8"/>
<line x1="418.5" y1="237" x2="418.5" y2="228" stroke="#D8BFD8"/>
<line x1="422.5" y1="237" x2="422.5" y2="228" stroke="#D8BFD8"/>
<line x1="426.5" y1="238" x2="426.5" y2="228" stroke="#D8BFD8"/>
<line x1="430.5" y1="239" x2="430.5" y2="228" stroke="#D8BFD8"/>
<line x1="434.5" y1="239" x2="434.5" y2="228" stroke="#D8BFD8"/>
<line x1="438.5" y1="240" x2="438.5" y2="228" stroke="#D8BFD8"/>
<line x1="442.5" y1="241" x2="442.5" y2="230" stroke="#D8BFD8"/>
<line x1="446.5" y1="241" x2="446.5" y2="231" stroke="#D8BFD8"/>
<line x1="450.5" y1="241" x2="450.5" y2="232" stroke="#D8BFD8"/>
<line x1="454.5" y1="244" x2="454.5" y2="232" stroke="#D8BFD8"/>
<line x1="458.5" y1="247" x2="458.5" y2="232" stroke="#D8BFD8"/>
<line x1="462.5" y1="248" x2="462.5" y2="232" stroke="#D8BFD8"/>
<line x1="466.5" y1="249" x2="466.5" y2="232" stroke="#D8BFD8"/>
<line x1="470.5" y1="250" x2="470.5" y2="232" stroke="#D8BFD8"/>
<line x1="474.5" y1="249" x2="474.5" y2="232" stroke="#D8BFD8"/>
<line x1="478.5" y1="248" x2="478.5" y2="232" stroke="#D8BFD8"/>
<line x1="482.5" y1="247" x2="482.5" y2="232" stroke="#D8BFD8"/>
<line x1="486.5" y1="246" x2="486.5" y2="232" stroke="#D8BFD8"/>
<line x1="490.5" y1="246" x2="490.5" y2="232" stroke="#D8BFD8"/>
<line x1="494.5" y1="246" x2="494.5" y2="232" stroke="#D8BFD8"/>
<line x1="498.5" y1="245" x2="498.5" y2="232" stroke="#D8BFD8"/>
<line x1="502.5" y1="245" x2="502.5" y2="232" stroke="#D8BFD8"/>
<line x1="506.5" y1="245" x2="506.5" y2="232" stroke="#D8BFD8"/>
<line x1="510.5" y1="246" x2="510.5" y2="232" stroke="#D8BFD8"/>
<line x1="514.5" y1="248" x2="514.5" y2="232" stroke="#D8BFD8"/>
<line x1="518.5" y1="248" x2="518.5" y2="232" stroke="#D8BFD8"/>
<line x1="522.5" y1="247" x2="522.5" y2="232" stroke="#D8BFD8"/>
<line x1="526.5" y1="247" x2="526.5" y2="232" stroke="#D8BFD8"/>
<line x1="530.5" y1="235" x2="530.5" y2="232" stroke="#D8BFD8"/>
<line x1="538.5" y1="263" x2="538.5" y2="260" stroke="#D8BFD8"/>
<line x1="542.5" y1="269" x2="542.5" y2="263" stroke="#D8BFD8"/>
<line x1="546.5" y1="269" x2="546.5" y2="263" stroke="#D8BFD8"/>
<line x1="550.5" y1="270" x2="550.5" y2="263" stroke="#D8BFD8"/>
<line x1="554.5" y1="271" x2="554.5" y2="266" stroke="#D8BFD8"/>
<line x1="558.5" y1="271" x2="558.5" y2="268" stroke="#D8BFD8"/>
<line x1="562.5" y1="272" x2="562.5" y2="268" stroke="#D8BFD8"/>
<line x1="566.5" y1="277" x2="566.5" y2="268" stroke="#D8BFD8"/>
<line x1="570.5" y1="284" x2="570.5" y2="268" stroke="#D8BFD8"/>
<line x1="574.5" y1="290" x2="574.5" y2="268" stroke="#D8BFD8"/>
<line x1="578.5" y1="291" x2="578.5" y2="268" stroke="#D8BFD8"/>
<line x1="582.5" y1="288" x2="582.5" y2="268" stroke="#D8BFD8"/>
<line x1="586.5" y1="287" x2="586.5" y2="268" stroke="#D8BFD8"/>
<line x1="590.5" y1="288" x2="590.5" y2="268" stroke="#D8BFD8"/>
<line x1="594.5" y1="289" x2="594.5" y2="268" stroke="#D8BFD8"/>
<line x1="598.5" y1="290" x2="598.5" y2="268" stroke="#D8BFD8"/>
<line x1="602.5" y1="291" x2="602.5" y2="268" stroke="#D8BFD8"/>
<line x1="606.5" y1="293" x2="606.5" y2="272" stroke="#D8BFD8"/>
<line x1="610.5" y1="295" x2="610.5" y2="274" stroke="#D8BFD8"/>
<line x1="614.5" y1="297" x2="614.5" y2="277" stroke="#D8BFD8"/>
<line x1="618.5" y1="300" x2="618.5" y2="278" stroke="#D8BFD8"/>
<line x1="622.5" y1="300" x2="622.5" y2="278" stroke="#D8BFD8"/>
<line x1="626.5" y1="300" x2="626.5" y2="279" stroke="#D8BFD8"/>
<line x1="630.5" y1="303" x2="630.5" y2="281" stroke="#D8BFD8"/>
<line x1="634.5" y1="309" x2="634.5" y2="283" stroke="#D8BFD8"/>
<line x1="638.5" y1="324" x2="638.5" y2="283" stroke="#D8BFD8"/>
<line x1="642.5" y1="333" x2="642.5" y2="283" stroke="#D8BFD8"/>
<line x1="646.5" y1="335" x2="646.5" y2="283" stroke="#D8BFD8"/>
<line x1="650.5" y1="335" x2="650.5" y2="283" stroke="#D8BFD8"/>
<line x1="654.5" y1="335" x2="654.5" y2="283" stroke="#D8BFD8"/>
<line x1="658.5" y1="335" x2="658.5" y2="283" stroke="#D8BFD8"/>
<line x1="662.5" y1="335" x2="662.5" y2="283" stroke="#D8BFD8"/>
<line x1="666.5" y1="335" x2="666.5" y2="283" stroke="#D8BFD8"/>
<line x1="670.5" y1="335" x2="670.5" y2="283" stroke="#D8BFD8"/>
<line x1="674.5" y1="335" x2="674.5" y2="283" stroke="#D8BFD8"/>
<line x1="678.5" y1="335" x2="678.5" y2="283" stroke="#D8BFD8"/>
<line x1="682.5" y1="335" x2="682.5" y2="283" stroke="#D8BFD8"/>
<line x1="686.5" y1="335" x2="686.5" y2="283" stroke="#D8BFD8"/>
<line x1="690.5" y1="335" x2="690.5" y2="283" stroke="#D8BFD8"/>
<line x1="694.5" y1="335" x2="694.5" y2="284" stroke="#D8BFD8"/>
<line x1="698.5" y1="339" x2="698.5" y2="289" stroke="#D8BFD8"/>
<line x1="702.5" y1="341" x2="702.5" y2="289" stroke="#D8BFD8"/>
<line x1="706.5" y1="344" x2="706.5" y2="289" stroke="#D8BFD8"/>
<line x1="710.5" y1="345" x2="710.5" y2="289" stroke="#D8BFD8"/>
<line x1="714.5" y1="345" x2="714.5" y2="289" stroke="#D8BFD8"/>
</g>
<polyline points="2.00,141.90 15.00,140.60 27.50,139.40 38.75,141.25 42.50,143.00 50.00,140.00 58.75,139.20 62.00,134.50 66.00,128.00 70.00,123.50 74.00,124.50 77.00,131.00 79.00,133.00 82.00,134.50 98.00,134.50 102.00,136.50 103.50,139.00 106.00,141.00 107.50,142.00 110.00,145.00 112.00,147.00 146.00,147.00 150.75,158.00 153.75,165.50 159.00,167.75 160.50,171.50 165.00,176.00 169.50,183.50 172.50,188.00 177.00,195.50 184.50,207.00 190.50,210.00 196.00,214.00 235.00,214.40 253.50,229.50 270.00,240.00 283.50,241.50 297.00,241.50 307.50,237.75 315.00,236.25 324.00,236.25 331.50,234.75 336.00,229.50 342.00,226.50 345.00,223.50 348.00,221.25 355.50,221.25 360.00,223.50 365.00,221.00 369.00,218.50 375.00,219.50 379.50,221.75 382.50,224.00 387.00,227.00 390.00,230.00 394.50,235.25 405.00,236.00 420.00,236.00 438.00,239.00 450.00,240.50 459.00,246.50 471.00,248.75 480.00,247.00 483.00,245.50 502.50,244.00 510.00,244.75 514.50,247.75 520.00,246.00 527.00,246.00 527.50,242.50 530.00,234.50 532.00,238.00 532.50,243.00 534.50,248.00 535.50,255.00 537.50,260.00 538.50,265.00 540.00,267.50 563.00,271.00 566.00,276.00 570.00,283.00 574.50,289.75 578.25,289.75 583.50,285.50 591.00,286.75 600.00,289.75 605.00,291.25 613.00,295.60 618.75,299.40 627.50,299.40 630.00,301.90 633.75,307.50 635.60,313.75 636.90,320.00 638.75,325.00 641.25,331.25 643.75,334.40 695.00,334.40 697.50,337.50 701.25,340.00 705.00,342.50 707.00,343.75 714.00,344.00" fill="none" stroke="#F4A460" stroke-width="1" stroke-dasharray="3 3" shape-rendering="crispEdges"/>
<polyline points="2.00,163.10 47.00,163.10 51.25,161.25 62.50,161.00 66.00,155.50 91.00,155.50 93.00,150.00 94.50,146.00 98.00,144.50 146.00,144.50 150.00,151.00 154.50,155.00 159.75,156.50 163.50,161.75 168.00,165.50 169.50,171.50 170.00,171.90 235.00,171.90 253.75,176.25 261.25,178.00 267.50,180.00 272.50,180.60 275.00,183.00 277.50,187.00 280.00,193.75 285.00,203.75 290.00,205.60 330.00,205.60 336.00,207.00 345.00,207.75 351.00,210.75 354.00,219.00 357.00,224.00 360.00,226.25 387.00,226.25 390.00,227.75 440.00,227.75 441.00,230.00 450.00,231.80 530.00,231.80 532.00,238.00 534.50,248.00 537.50,260.00 542.50,263.00 553.00,263.00 554.50,267.00 562.00,268.50 603.00,268.50 605.00,271.25 611.25,275.00 616.25,278.00 627.50,278.75 630.00,281.25 635.00,283.10 693.00,283.10 696.25,285.60 697.50,288.75 713.75,288.75 715.00,290.60" fill="none" stroke="#D8BFD8" stroke-width="1" stroke-dasharray="3 3" shape-rendering="crispEdges"/>
<g shape-rendering="crispEdges" stroke-linejoin="round">
<polyline points="2.00,147.50 6.00,150.50 8.00,153.00 10.00,157.00 14.00,159.50 38.00,160.00 42.00,161.00 45.00,170.00 49.50,179.00 52.50,182.00 57.00,185.00 60.00,189.50 62.25,190.50 66.75,198.00 73.50,200.25 78.00,209.25 81.75,217.50 87.00,220.50 91.50,223.50 96.00,228.75 102.00,232.50 108.00,233.25 114.00,231.75 120.00,231.75 124.50,229.50 129.00,229.50 135.00,234.75 147.00,235.50 153.00,237.75 159.00,240.00 163.50,246.00 168.00,249.75 171.75,249.75 175.50,246.00 178.50,244.50 190.50,244.50 195.00,240.75 201.00,238.50 205.75,233.60 208.00,232.90 216.00,231.50 225.00,231.75 229.00,231.75 230.50,226.50 232.00,225.40 238.75,225.00 241.75,219.60 260.00,219.50 271.25,218.75 275.00,221.25 278.75,226.25 281.25,231.25 283.00,235.00 285.00,240.00 291.00,244.50 300.00,246.00 304.50,249.00 309.00,253.50 315.00,254.25 318.00,250.50 321.75,248.50 330.00,248.70 339.00,247.50 345.00,249.50 360.00,249.50 375.00,248.00 379.50,243.50 382.50,240.50 406.50,240.50 409.50,246.50 412.50,247.25 420.00,244.25 423.00,243.50 426.00,240.50 429.00,243.50 431.25,248.00 434.00,260.00 436.00,269.00 458.25,269.50 463.50,289.00 466.50,302.50 470.25,313.00 474.00,310.75 478.50,304.00 480.00,303.00 489.00,306.00 495.00,307.50 498.75,305.25 502.50,312.75 513.00,318.75 522.00,319.50 526.50,321.75 529.50,322.50 531.75,328.50 537.75,343.20 555.00,343.20 562.50,348.60 569.25,343.20 580.00,343.20 591.00,342.60 594.00,349.75 596.00,350.50 610.00,350.50" fill="none" stroke="#FF0000" stroke-width="1" />
<polyline points="2.00,134.50 39.00,134.50 45.00,142.25 49.50,150.50 58.50,159.50 64.50,167.75 67.50,176.00 72.00,188.00 75.00,193.25 78.00,197.50 120.00,198.00 130.50,198.50 135.00,201.00 141.00,204.75 144.75,210.00 149.25,219.75 150.75,224.25 156.00,229.50 160.50,234.00 165.00,238.50 168.00,240.00 225.00,240.00 227.50,236.00 229.50,233.25 239.50,233.25 241.00,226.50 257.50,226.50 261.25,222.50 265.00,221.50 273.75,220.60 281.25,221.50 286.25,225.00 290.00,226.50 306.00,226.50 312.00,228.50 336.00,228.50 340.50,230.25 345.00,234.75 348.00,240.00 351.00,246.00 355.50,249.00 360.00,249.50 372.00,248.75 373.00,248.50 423.00,248.50 424.50,243.50 426.75,241.25 429.00,245.00 432.00,254.00 433.50,262.00 436.50,268.00 437.00,268.50 497.00,268.50 499.50,270.25 510.00,277.75 516.00,278.50 523.50,278.50 527.25,284.50 529.50,298.00 533.25,312.00 536.25,320.25 539.25,324.00 540.00,324.50 591.00,324.50 592.50,328.75 598.75,330.00 603.00,340.00 606.90,348.00 610.00,348.50" fill="none" stroke="#0000FF" stroke-width="1" />
<polyline points="2.00,227.00 6.75,228.75 10.50,228.00 18.75,221.25 22.50,228.75 26.25,240.75 30.75,241.50 34.80,249.75 38.25,246.00 42.75,250.20 51.00,253.50 57.75,249.75 62.25,251.70 66.00,243.00 69.00,232.50 73.50,228.00 78.00,226.50 81.75,227.70 84.75,231.00 87.00,236.25 90.00,237.75 93.75,231.75 97.50,225.00 102.75,223.50 106.50,228.00 110.25,231.00 114.00,234.00 118.50,237.75 120.00,237.75 123.00,237.00 126.75,214.50 135.00,205.50 138.75,198.00 142.50,214.50 146.25,223.50 150.00,230.25 154.50,237.00 159.00,234.75 162.75,231.00 166.50,243.00 171.75,250.50 174.00,247.50 178.50,252.00 186.75,256.50 193.50,252.75 198.00,248.25 201.75,250.50 207.00,246.00 210.00,254.25 214.50,240.00 218.25,247.50 223.50,237.00 225.00,250.50 228.00,243.00 231.00,250.50 234.75,267.00 240.00,258.00 243.00,249.00 250.50,243.00 254.25,239.25 256.50,231.00 258.75,237.00 262.50,231.75 266.25,229.50 270.00,240.00 274.50,246.00 279.00,244.50 283.50,247.50 288.00,250.50 291.75,252.00 295.50,244.50 297.75,241.50 300.00,244.50 304.50,250.50 307.50,246.00 311.25,239.25 315.00,237.75 318.00,243.00 322.00,250.00 324.75,260.00 327.00,275.00 328.50,293.00 330.00,309.50 332.25,320.00 334.50,324.50 336.00,315.50 338.25,308.00 342.00,308.75 345.00,300.50 348.00,299.00 351.75,297.50 354.75,296.00 360.00,301.50 363.00,303.25 368.25,302.00 373.50,307.75 378.75,311.25 384.75,309.00 390.75,306.00 393.75,311.25 396.75,322.50 399.00,332.25 402.75,330.00 406.50,335.25 410.25,347.25 414.75,327.75 418.50,342.00 422.25,351.75 426.00,352.50 430.50,348.00 438.00,344.25 444.00,347.25 450.00,353.25 453.75,340.50 458.25,337.50 462.00,344.25 466.50,347.25 471.00,347.25 474.75,342.75 478.50,346.50 480.00,342.00 482.25,336.00 486.00,345.00 490.50,357.00 494.25,347.25 498.75,352.50 502.50,355.50 506.25,351.75" fill="none" stroke="#00FF00" stroke-width="1" />
<polyline points="2.00,158.50 20.00,159.00 40.00,159.50 55.00,161.75 64.50,165.50 78.00,172.25 90.00,182.00 99.00,188.00 108.00,194.50 117.00,198.50 120.00,199.50 129.00,205.50 139.50,213.00 147.00,219.75 156.00,225.00 163.50,229.50 168.00,232.50 180.00,232.50 195.00,231.75 210.00,231.75 225.00,232.50 240.00,230.00 249.00,228.75 270.00,230.25 285.00,232.20 306.00,232.50 324.00,233.25 342.00,234.75 360.00,235.50 390.00,234.50 405.00,235.25 426.00,236.75 435.00,240.50 444.00,245.00 456.00,250.25 465.00,254.25 480.00,260.75 495.00,265.00 510.00,274.00 525.00,281.50 540.00,290.50 546.00,294.25 555.00,301.25 564.00,304.00 576.00,310.00 588.00,315.75 597.50,320.60 605.00,323.75 610.60,325.00" fill="none" stroke="#FF0000" stroke-width="2.4" />
</g>
<g shape-rendering="crispEdges" stroke="#FFFFFF" stroke-width="1">
<line x1="2.5" y1="115.7" x2="613" y2="292"/>
<line x1="2.5" y1="168.8" x2="613.75" y2="345.3"/>
<line x1="2.5" y1="222.2" x2="613.75" y2="398.3"/>
</g>
<rect x="3" y="5" width="744" height="2" fill="#FF0000"/>
<rect x="3" y="40" width="744" height="2" fill="#FF0000"/>
<rect x="3" y="72" width="744" height="2" fill="#FF0000"/>
<rect x="3" y="101" width="744" height="2" fill="#FF0000"/>
<rect x="3" y="126" width="744" height="2" fill="#FF0000"/>
<rect x="3" y="152" width="744" height="2" fill="#FF0000"/>
<rect x="3" y="188" width="744" height="2" fill="#FF0000"/>
<rect x="3" y="216" width="744" height="2" fill="#FF0000"/>
<rect x="3" y="239" width="744" height="2" fill="#FF0000"/>
<rect x="3" y="268" width="744" height="2" fill="#FF0000"/>
<rect x="3" y="292" width="744" height="2" fill="#FF0000"/>
<rect x="3" y="322" width="744" height="2" fill="#FF0000"/>
<rect x="3" y="358" width="744" height="2" fill="#00FFFF"/>
<rect x="3" y="390" width="744" height="2" fill="#00FFFF"/>
<rect x="3" y="423" width="744" height="2" fill="#00FFFF"/>
<rect x="3" y="448" width="744" height="2" fill="#00FFFF"/>
<rect x="3" y="470" width="744" height="2" fill="#00FFFF"/>
<polygon points="630,300 637.8,307.8 633.8,307.8 633.8,320.8 626.2,320.8 626.2,307.8 622.2,307.8" fill="none" stroke="#00FFFF" stroke-width="1.9" stroke-linejoin="miter"/>
<polygon points="626.2,355.2 633.8,355.2 633.8,367.8 637.8,367.8 630,375.8 622.2,367.8 626.2,367.8" fill="none" stroke="#00FFFF" stroke-width="1.9" stroke-linejoin="miter"/>
<rect x="2" y="2" width="746" height="1" fill="#FFFFFF"/>
<rect x="2" y="2" width="1" height="487" fill="#FFFFFF"/>
<rect x="2" y="488" width="746" height="1" fill="#FFFFFF"/>
<rect x="0" y="489" width="800" height="1" fill="#000000"/>
<rect x="2" y="490" width="746" height="1" fill="#FFFFFF"/>
<rect x="2" y="490" width="1" height="94" fill="#FFFFFF"/>
<rect x="2" y="579" width="746" height="1" fill="#FFFFFF"/>
<rect x="747" y="2" width="1" height="578" fill="#FFFFFF"/>
<rect x="0" y="489" width="800" height="1" fill="#000000"/>
<g shape-rendering="crispEdges">
<rect x="6" y="511" width="1" height="15" fill="#C0C0C0"/>
<rect x="10" y="511" width="1" height="15" fill="#C0C0C0"/>
<rect x="14" y="511" width="1" height="14" fill="#C0C0C0"/>
<rect x="18" y="511" width="1" height="17" fill="#C0C0C0"/>
<rect x="22" y="511" width="1" height="18" fill="#C0C0C0"/>
<rect x="26" y="511" width="1" height="17" fill="#C0C0C0"/>
<rect x="30" y="511" width="1" height="16" fill="#C0C0C0"/>
<rect x="34" y="511" width="1" height="15" fill="#C0C0C0"/>
<rect x="38" y="511" width="1" height="15" fill="#C0C0C0"/>
<rect x="42" y="511" width="1" height="16" fill="#C0C0C0"/>
<rect x="46" y="511" width="1" height="22" fill="#C0C0C0"/>
<rect x="50" y="511" width="1" height="28" fill="#C0C0C0"/>
<rect x="54" y="511" width="1" height="33" fill="#C0C0C0"/>
<rect x="58" y="511" width="1" height="40" fill="#C0C0C0"/>
<rect x="62" y="511" width="1" height="45" fill="#C0C0C0"/>
<rect x="66" y="511" width="1" height="51" fill="#C0C0C0"/>
<rect x="70" y="511" width="1" height="56" fill="#C0C0C0"/>
<rect x="74" y="511" width="1" height="59" fill="#C0C0C0"/>
<rect x="78" y="511" width="1" height="61" fill="#C0C0C0"/>
<rect x="82" y="511" width="1" height="61" fill="#C0C0C0"/>
<rect x="86" y="511" width="1" height="61" fill="#C0C0C0"/>
<rect x="90" y="511" width="1" height="60" fill="#C0C0C0"/>
<rect x="94" y="511" width="1" height="58" fill="#C0C0C0"/>
<rect x="98" y="511" width="1" height="56" fill="#C0C0C0"/>
<rect x="102" y="511" width="1" height="53" fill="#C0C0C0"/>
<rect x="106" y="511" width="1" height="49" fill="#C0C0C0"/>
<rect x="110" y="511" width="1" height="47" fill="#C0C0C0"/>
<rect x="114" y="511" width="1" height="43" fill="#C0C0C0"/>
<rect x="118" y="511" width="1" height="39" fill="#C0C0C0"/>
<rect x="122" y="511" width="1" height="36" fill="#C0C0C0"/>
<rect x="126" y="511" width="1" height="35" fill="#C0C0C0"/>
<rect x="130" y="511" width="1" height="36" fill="#C0C0C0"/>
<rect x="134" y="511" width="1" height="36" fill="#C0C0C0"/>
<rect x="138" y="511" width="1" height="37" fill="#C0C0C0"/>
<rect x="142" y="511" width="1" height="37" fill="#C0C0C0"/>
<rect x="146" y="511" width="1" height="37" fill="#C0C0C0"/>
<rect x="150" y="511" width="1" height="37" fill="#C0C0C0"/>
<rect x="154" y="511" width="1" height="37" fill="#C0C0C0"/>
<rect x="158" y="511" width="1" height="37" fill="#C0C0C0"/>
<rect x="162" y="511" width="1" height="37" fill="#C0C0C0"/>
<rect x="166" y="511" width="1" height="35" fill="#C0C0C0"/>
<rect x="170" y="511" width="1" height="31" fill="#C0C0C0"/>
<rect x="174" y="511" width="1" height="27" fill="#C0C0C0"/>
<rect x="178" y="511" width="1" height="22" fill="#C0C0C0"/>
<rect x="182" y="511" width="1" height="17" fill="#C0C0C0"/>
<rect x="186" y="511" width="1" height="14" fill="#C0C0C0"/>
<rect x="190" y="511" width="1" height="12" fill="#C0C0C0"/>
<rect x="194" y="511" width="1" height="11" fill="#C0C0C0"/>
<rect x="198" y="511" width="1" height="8" fill="#C0C0C0"/>
<rect x="202" y="511" width="1" height="7" fill="#C0C0C0"/>
<rect x="206" y="511" width="1" height="3" fill="#C0C0C0"/>
<rect x="210" y="511" width="1" height="2" fill="#C0C0C0"/>
<rect x="214" y="511" width="1" height="3" fill="#C0C0C0"/>
<rect x="218" y="511" width="1" height="4" fill="#C0C0C0"/>
<rect x="222" y="511" width="1" height="5" fill="#C0C0C0"/>
<rect x="226" y="511" width="1" height="5" fill="#C0C0C0"/>
<rect x="230" y="511" width="1" height="1" fill="#C0C0C0"/>
<rect x="234" y="507" width="1" height="5" fill="#C0C0C0"/>
<rect x="238" y="503" width="1" height="9" fill="#C0C0C0"/>
<rect x="242" y="498" width="1" height="14" fill="#C0C0C0"/>
<rect x="246" y="498" width="1" height="14" fill="#C0C0C0"/>
<rect x="250" y="500" width="1" height="12" fill="#C0C0C0"/>
<rect x="254" y="502" width="1" height="10" fill="#C0C0C0"/>
<rect x="258" y="506" width="1" height="6" fill="#C0C0C0"/>
<rect x="262" y="508" width="1" height="4" fill="#C0C0C0"/>
<rect x="266" y="511" width="1" height="1" fill="#C0C0C0"/>
<rect x="270" y="511" width="1" height="2" fill="#C0C0C0"/>
<rect x="274" y="511" width="1" height="7" fill="#C0C0C0"/>
<rect x="278" y="511" width="1" height="10" fill="#C0C0C0"/>
<rect x="282" y="511" width="1" height="13" fill="#C0C0C0"/>
<rect x="286" y="511" width="1" height="15" fill="#C0C0C0"/>
<rect x="290" y="511" width="1" height="18" fill="#C0C0C0"/>
<rect x="294" y="511" width="1" height="19" fill="#C0C0C0"/>
<rect x="298" y="511" width="1" height="19" fill="#C0C0C0"/>
<rect x="302" y="511" width="1" height="19" fill="#C0C0C0"/>
<rect x="306" y="511" width="1" height="19" fill="#C0C0C0"/>
<rect x="310" y="511" width="1" height="17" fill="#C0C0C0"/>
<rect x="314" y="511" width="1" height="17" fill="#C0C0C0"/>
<rect x="318" y="511" width="1" height="15" fill="#C0C0C0"/>
<rect x="322" y="511" width="1" height="15" fill="#C0C0C0"/>
<rect x="326" y="511" width="1" height="14" fill="#C0C0C0"/>
<rect x="330" y="511" width="1" height="14" fill="#C0C0C0"/>
<rect x="334" y="511" width="1" height="11" fill="#C0C0C0"/>
<rect x="338" y="511" width="1" height="16" fill="#C0C0C0"/>
<rect x="342" y="511" width="1" height="17" fill="#C0C0C0"/>
<rect x="346" y="511" width="1" height="15" fill="#C0C0C0"/>
<rect x="350" y="511" width="1" height="13" fill="#C0C0C0"/>
<rect x="354" y="511" width="1" height="10" fill="#C0C0C0"/>
<rect x="358" y="511" width="1" height="7" fill="#C0C0C0"/>
<rect x="362" y="511" width="1" height="3" fill="#C0C0C0"/>
<rect x="366" y="511" width="1" height="1" fill="#C0C0C0"/>
<rect x="370" y="508" width="1" height="4" fill="#C0C0C0"/>
<rect x="374" y="508" width="1" height="4" fill="#C0C0C0"/>
<rect x="378" y="508" width="1" height="4" fill="#C0C0C0"/>
<rect x="382" y="508" width="1" height="4" fill="#C0C0C0"/>
<rect x="386" y="511" width="1" height="1" fill="#C0C0C0"/>
<rect x="390" y="511" width="1" height="1" fill="#C0C0C0"/>
<rect x="394" y="511" width="1" height="3" fill="#C0C0C0"/>
<rect x="398" y="511" width="1" height="3" fill="#C0C0C0"/>
<rect x="402" y="511" width="1" height="1" fill="#C0C0C0"/>
<rect x="406" y="511" width="1" height="1" fill="#C0C0C0"/>
<rect x="410" y="511" width="1" height="4" fill="#C0C0C0"/>
<rect x="414" y="511" width="1" height="1" fill="#C0C0C0"/>
<rect x="418" y="511" width="1" height="1" fill="#C0C0C0"/>
<rect x="422" y="511" width="1" height="1" fill="#C0C0C0"/>
<rect x="426" y="511" width="1" height="1" fill="#C0C0C0"/>
<rect x="430" y="511" width="1" height="7" fill="#C0C0C0"/>
<rect x="434" y="511" width="1" height="21" fill="#C0C0C0"/>
<rect x="438" y="511" width="1" height="33" fill="#C0C0C0"/>
<rect x="442" y="511" width="1" height="39" fill="#C0C0C0"/>
<rect x="446" y="511" width="1" height="43" fill="#C0C0C0"/>
<rect x="450" y="511" width="1" height="45" fill="#C0C0C0"/>
<rect x="454" y="511" width="1" height="44" fill="#C0C0C0"/>
<rect x="458" y="511" width="1" height="43" fill="#C0C0C0"/>
<rect x="462" y="511" width="1" height="43" fill="#C0C0C0"/>
<rect x="466" y="511" width="1" height="43" fill="#C0C0C0"/>
<rect x="470" y="511" width="1" height="42" fill="#C0C0C0"/>
<rect x="474" y="511" width="1" height="41" fill="#C0C0C0"/>
<rect x="478" y="511" width="1" height="41" fill="#C0C0C0"/>
<rect x="482" y="511" width="1" height="41" fill="#C0C0C0"/>
<rect x="486" y="511" width="1" height="40" fill="#C0C0C0"/>
<rect x="490" y="511" width="1" height="39" fill="#C0C0C0"/>
<rect x="494" y="511" width="1" height="37" fill="#C0C0C0"/>
<rect x="498" y="511" width="1" height="37" fill="#C0C0C0"/>
<rect x="502" y="511" width="1" height="40" fill="#C0C0C0"/>
<rect x="506" y="511" width="1" height="42" fill="#C0C0C0"/>
<rect x="510" y="511" width="1" height="43" fill="#C0C0C0"/>
<rect x="514" y="511" width="1" height="47" fill="#C0C0C0"/>
<rect x="518" y="511" width="1" height="45" fill="#C0C0C0"/>
<rect x="522" y="511" width="1" height="46" fill="#C0C0C0"/>
<rect x="526" y="511" width="1" height="49" fill="#C0C0C0"/>
<rect x="530" y="511" width="1" height="49" fill="#C0C0C0"/>
<rect x="534" y="511" width="1" height="49" fill="#C0C0C0"/>
<rect x="538" y="511" width="1" height="48" fill="#C0C0C0"/>
<rect x="542" y="511" width="1" height="47" fill="#C0C0C0"/>
<rect x="546" y="511" width="1" height="46" fill="#C0C0C0"/>
<rect x="550" y="511" width="1" height="44" fill="#C0C0C0"/>
<rect x="554" y="511" width="1" height="43" fill="#C0C0C0"/>
<rect x="558" y="511" width="1" height="40" fill="#C0C0C0"/>
<rect x="562" y="511" width="1" height="36" fill="#C0C0C0"/>
<rect x="566" y="511" width="1" height="34" fill="#C0C0C0"/>
<rect x="570" y="511" width="1" height="32" fill="#C0C0C0"/>
<rect x="574" y="511" width="1" height="31" fill="#C0C0C0"/>
<rect x="578" y="511" width="1" height="29" fill="#C0C0C0"/>
<rect x="582" y="511" width="1" height="27" fill="#C0C0C0"/>
<rect x="586" y="511" width="1" height="24" fill="#C0C0C0"/>
<rect x="590" y="511" width="1" height="23" fill="#C0C0C0"/>
<rect x="594" y="511" width="1" height="25" fill="#C0C0C0"/>
<rect x="598" y="511" width="1" height="23" fill="#C0C0C0"/>
<rect x="602" y="511" width="1" height="23" fill="#C0C0C0"/>
<rect x="606" y="511" width="1" height="23" fill="#C0C0C0"/>
<rect x="610" y="511" width="1" height="22" fill="#C0C0C0"/>
</g>
<polyline points="3.00,517.30 10.00,521.50 15.00,523.75 22.00,526.00 30.00,526.50 38.00,525.50 46.00,526.50 52.00,529.00 58.00,532.00 64.00,536.50 70.00,543.25 75.00,550.00 79.00,554.50 85.00,560.50 90.00,565.00 96.00,568.00 102.00,569.20 108.00,567.70 114.00,565.00 119.00,562.75 120.00,561.25 127.50,556.00 132.00,553.00 138.00,550.50 144.00,549.00 150.00,547.75 156.00,547.50 162.00,547.50 168.00,546.70 174.00,545.20 180.00,542.50 186.00,538.30 192.00,534.70 198.00,530.50 204.00,526.00 210.00,521.50 216.00,518.50 222.00,517.50 228.00,515.80 234.00,513.50 240.00,511.75 246.00,508.75 252.00,506.20 258.00,504.50 264.00,504.40 270.00,504.40 276.00,506.80 282.00,511.00 288.00,515.50 294.00,519.25 300.00,522.70 306.00,525.25 312.00,526.50 318.00,527.20 324.00,527.20 330.00,526.50 336.00,525.70 342.00,525.70 348.00,525.00 354.00,524.20 360.00,522.75 366.00,520.50 372.00,518.20 378.00,515.20 384.00,512.50 390.00,511.50 396.00,510.25 402.00,510.25 408.00,511.50 414.00,512.50 420.00,512.50 426.00,512.20 432.00,513.70 438.00,517.75 444.00,524.50 450.00,530.50 456.00,537.25 462.00,544.00 468.00,550.00 472.00,552.25 478.00,553.30 480.00,552.25 486.00,551.50 492.00,551.20 498.00,550.30 504.00,550.40 510.00,550.75 516.00,551.50 522.00,551.80 528.00,554.20 534.00,556.00 540.00,557.50 546.00,557.50 552.00,557.20 558.00,555.70 564.00,554.80 570.00,551.50 576.00,548.80 582.00,545.50 588.00,542.50 594.00,540.00 600.00,538.30 604.00,535.75 610.00,534.25" fill="none" stroke="#FF0000" stroke-width="1" stroke-dasharray="3 3" shape-rendering="crispEdges"/>
<g shape-rendering="crispEdges">
<rect x="747" y="38" width="4" height="1" fill="#FFFFFF"/>
<rect x="747" y="71" width="4" height="1" fill="#FFFFFF"/>
<rect x="747" y="103" width="4" height="1" fill="#FFFFFF"/>
<rect x="747" y="135" width="4" height="1" fill="#FFFFFF"/>
<rect x="747" y="167" width="4" height="1" fill="#FFFFFF"/>
<rect x="747" y="199" width="4" height="1" fill="#FFFFFF"/>
<rect x="747" y="231" width="4" height="1" fill="#FFFFFF"/>
<rect x="747" y="263" width="4" height="1" fill="#FFFFFF"/>
<rect x="747" y="295" width="4" height="1" fill="#FFFFFF"/>
<rect x="747" y="327" width="4" height="1" fill="#FFFFFF"/>
<rect x="747" y="360" width="4" height="1" fill="#FFFFFF"/>
<rect x="747" y="392" width="4" height="1" fill="#FFFFFF"/>
<rect x="747" y="424" width="4" height="1" fill="#FFFFFF"/>
<rect x="747" y="456" width="4" height="1" fill="#FFFFFF"/>
<rect x="747" y="6" width="4" height="1" fill="#FFFFFF"/>
<rect x="747" y="490" width="5" height="1" fill="#FFFFFF"/>
<rect x="747" y="511" width="4" height="1" fill="#FFFFFF"/>
<rect x="747" y="579" width="6" height="1" fill="#FFFFFF"/>
<rect x="66" y="579" width="1" height="5" fill="#FFFFFF"/>
<rect x="130" y="579" width="1" height="5" fill="#FFFFFF"/>
<rect x="194" y="579" width="1" height="5" fill="#FFFFFF"/>
<rect x="258" y="579" width="1" height="5" fill="#FFFFFF"/>
<rect x="322" y="579" width="1" height="5" fill="#FFFFFF"/>
<rect x="386" y="579" width="1" height="5" fill="#FFFFFF"/>
<rect x="450" y="579" width="1" height="5" fill="#FFFFFF"/>
<rect x="514" y="579" width="1" height="5" fill="#FFFFFF"/>
<rect x="578" y="579" width="1" height="5" fill="#FFFFFF"/>
</g>
<text x="753" y="42" font-size="10" fill="#FFFFFF" font-family="Liberation Sans, sans-serif" textLength="32.3" lengthAdjust="spacingAndGlyphs" filter="url(#th)" >1.12050</text>
<text x="753" y="75" font-size="10" fill="#FFFFFF" font-family="Liberation Sans, sans-serif" textLength="32.3" lengthAdjust="spacingAndGlyphs" filter="url(#th)" >1.11865</text>
<text x="753" y="107" font-size="10" fill="#FFFFFF" font-family="Liberation Sans, sans-serif" textLength="32.3" lengthAdjust="spacingAndGlyphs" filter="url(#th)" >1.11680</text>
<text x="753" y="139" font-size="10" fill="#FFFFFF" font-family="Liberation Sans, sans-serif" textLength="32.3" lengthAdjust="spacingAndGlyphs" filter="url(#th)" >1.11495</text>
<text x="753" y="171" font-size="10" fill="#FFFFFF" font-family="Liberation Sans, sans-serif" textLength="32.3" lengthAdjust="spacingAndGlyphs" filter="url(#th)" >1.11310</text>
<text x="753" y="203" font-size="10" fill="#FFFFFF" font-family="Liberation Sans, sans-serif" textLength="32.3" lengthAdjust="spacingAndGlyphs" filter="url(#th)" >1.11125</text>
<text x="753" y="235" font-size="10" fill="#FFFFFF" font-family="Liberation Sans, sans-serif" textLength="32.3" lengthAdjust="spacingAndGlyphs" filter="url(#th)" >1.10940</text>
<text x="753" y="267" font-size="10" fill="#FFFFFF" font-family="Liberation Sans, sans-serif" textLength="32.3" lengthAdjust="spacingAndGlyphs" filter="url(#th)" >1.10755</text>
<text x="753" y="299" font-size="10" fill="#FFFFFF" font-family="Liberation Sans, sans-serif" textLength="32.3" lengthAdjust="spacingAndGlyphs" filter="url(#th)" >1.10570</text>
<text x="753" y="331" font-size="10" fill="#FFFFFF" font-family="Liberation Sans, sans-serif" textLength="32.3" lengthAdjust="spacingAndGlyphs" filter="url(#th)" >1.10385</text>
<text x="753" y="364" font-size="10" fill="#FFFFFF" font-family="Liberation Sans, sans-serif" textLength="32.3" lengthAdjust="spacingAndGlyphs" filter="url(#th)" >1.10200</text>
<text x="753" y="396" font-size="10" fill="#FFFFFF" font-family="Liberation Sans, sans-serif" textLength="32.3" lengthAdjust="spacingAndGlyphs" filter="url(#th)" >1.10015</text>
<text x="753" y="428" font-size="10" fill="#FFFFFF" font-family="Liberation Sans, sans-serif" textLength="32.3" lengthAdjust="spacingAndGlyphs" filter="url(#th)" >1.09830</text>
<text x="753" y="460" font-size="10" fill="#FFFFFF" font-family="Liberation Sans, sans-serif" textLength="32.3" lengthAdjust="spacingAndGlyphs" filter="url(#th)" >1.09645</text>
<rect x="750" y="1" width="39" height="11" fill="#FF0000"/>
<text x="753" y="10" font-size="10" fill="#000000" font-family="Liberation Sans, sans-serif" textLength="32.3" lengthAdjust="spacingAndGlyphs" filter="url(#th)" >1.12235</text>
<rect x="750" y="36" width="39" height="11" fill="#FF0000"/>
<text x="753" y="45" font-size="10" fill="#000000" font-family="Liberation Sans, sans-serif" textLength="32.3" lengthAdjust="spacingAndGlyphs" filter="url(#th)" >1.12038</text>
<rect x="750" y="68" width="39" height="11" fill="#FF0000"/>
<text x="753" y="77" font-size="10" fill="#000000" font-family="Liberation Sans, sans-serif" textLength="32.3" lengthAdjust="spacingAndGlyphs" filter="url(#th)" >1.11852</text>
<rect x="750" y="97" width="39" height="11" fill="#FF0000"/>
<text x="753" y="106" font-size="10" fill="#000000" font-family="Liberation Sans, sans-serif" textLength="32.3" lengthAdjust="spacingAndGlyphs" filter="url(#th)" >1.11685</text>
<rect x="750" y="122" width="39" height="11" fill="#FF0000"/>
<text x="753" y="131" font-size="10" fill="#000000" font-family="Liberation Sans, sans-serif" textLength="32.3" lengthAdjust="spacingAndGlyphs" filter="url(#th)" >1.11539</text>
<rect x="750" y="148" width="39" height="11" fill="#FF0000"/>
<text x="753" y="157" font-size="10" fill="#000000" font-family="Liberation Sans, sans-serif" textLength="32.3" lengthAdjust="spacingAndGlyphs" filter="url(#th)" >1.11388</text>
<rect x="750" y="184" width="39" height="11" fill="#FF0000"/>
<text x="753" y="193" font-size="10" fill="#000000" font-family="Liberation Sans, sans-serif" textLength="32.3" lengthAdjust="spacingAndGlyphs" filter="url(#th)" >1.11185</text>
<rect x="750" y="212" width="39" height="11" fill="#FF0000"/>
<text x="753" y="221" font-size="10" fill="#000000" font-family="Liberation Sans, sans-serif" textLength="32.3" lengthAdjust="spacingAndGlyphs" filter="url(#th)" >1.11023</text>
<rect x="750" y="235" width="39" height="11" fill="#FF0000"/>
<text x="753" y="244" font-size="10" fill="#000000" font-family="Liberation Sans, sans-serif" textLength="32.3" lengthAdjust="spacingAndGlyphs" filter="url(#th)" >1.10887</text>
<rect x="750" y="264" width="39" height="11" fill="#FF0000"/>
<text x="753" y="273" font-size="10" fill="#000000" font-family="Liberation Sans, sans-serif" textLength="32.3" lengthAdjust="spacingAndGlyphs" filter="url(#th)" >1.10723</text>
<rect x="750" y="288" width="39" height="11" fill="#FF0000"/>
<text x="753" y="297" font-size="10" fill="#000000" font-family="Liberation Sans, sans-serif" textLength="32.3" lengthAdjust="spacingAndGlyphs" filter="url(#th)" >1.10585</text>
<rect x="750" y="318" width="39" height="11" fill="#FF0000"/>
<text x="753" y="327" font-size="10" fill="#000000" font-family="Liberation Sans, sans-serif" textLength="32.3" lengthAdjust="spacingAndGlyphs" filter="url(#th)" >1.10409</text>
<rect x="750" y="346" width="39" height="11" fill="#768698"/>
<text x="753" y="355" font-size="10" fill="#000000" font-family="Liberation Sans, sans-serif" textLength="32.3" lengthAdjust="spacingAndGlyphs" filter="url(#th)" >1.10248</text>
<rect x="750" y="354" width="39" height="11" fill="#00FFFF"/>
<text x="753" y="363" font-size="10" fill="#000000" font-family="Liberation Sans, sans-serif" textLength="32.3" lengthAdjust="spacingAndGlyphs" filter="url(#th)" >1.10204</text>
<rect x="750" y="386" width="39" height="11" fill="#00FFFF"/>
<text x="753" y="395" font-size="10" fill="#000000" font-family="Liberation Sans, sans-serif" textLength="32.3" lengthAdjust="spacingAndGlyphs" filter="url(#th)" >1.10019</text>
<rect x="750" y="419" width="39" height="11" fill="#00FFFF"/>
<text x="753" y="428" font-size="10" fill="#000000" font-family="Liberation Sans, sans-serif" textLength="32.3" lengthAdjust="spacingAndGlyphs" filter="url(#th)" >1.09829</text>
<rect x="750" y="444" width="39" height="11" fill="#00FFFF"/>
<text x="753" y="453" font-size="10" fill="#000000" font-family="Liberation Sans, sans-serif" textLength="32.3" lengthAdjust="spacingAndGlyphs" filter="url(#th)" >1.09685</text>
<rect x="750" y="466" width="39" height="11" fill="#00FFFF"/>
<text x="753" y="475" font-size="10" fill="#000000" font-family="Liberation Sans, sans-serif" textLength="32.3" lengthAdjust="spacingAndGlyphs" filter="url(#th)" >1.09557</text>
<text x="753" y="500" font-size="10" fill="#FFFFFF" font-family="Liberation Sans, sans-serif" textLength="38" lengthAdjust="spacingAndGlyphs" filter="url(#th)" >0.000451</text>
<text x="753" y="514" font-size="10" fill="#FFFFFF" font-family="Liberation Sans, sans-serif" textLength="38" lengthAdjust="spacingAndGlyphs" filter="url(#th)" >0.000000</text>
<text x="753" y="577" font-size="10" fill="#FFFFFF" font-family="Liberation Sans, sans-serif" textLength="41" lengthAdjust="spacingAndGlyphs" filter="url(#th)" >-0.001482</text>
<rect x="5" y="493" width="157" height="12" fill="#000"/>
<text x="6" y="503" font-size="10" fill="#FFFFFF" font-family="Liberation Sans, sans-serif" textLength="154" lengthAdjust="spacingAndGlyphs" filter="url(#th)" >MACD(12,26,9) -0.000464 -0.000511</text>
<text x="2" y="592" font-size="10" fill="#FFFFFF" font-family="Liberation Sans, sans-serif" textLength="49" lengthAdjust="spacingAndGlyphs" filter="url(#th)" >16 Jan 2020</text>
<text x="66" y="592" font-size="10" fill="#FFFFFF" font-family="Liberation Sans, sans-serif" textLength="52" lengthAdjust="spacingAndGlyphs" filter="url(#th)" >17 Jan 15:00</text>
<text x="130" y="592" font-size="10" fill="#FFFFFF" font-family="Liberation Sans, sans-serif" textLength="52" lengthAdjust="spacingAndGlyphs" filter="url(#th)" >20 Jan 08:00</text>
<text x="194" y="592" font-size="10" fill="#FFFFFF" font-family="Liberation Sans, sans-serif" textLength="52" lengthAdjust="spacingAndGlyphs" filter="url(#th)" >21 Jan 01:00</text>
<text x="258" y="592" font-size="10" fill="#FFFFFF" font-family="Liberation Sans, sans-serif" textLength="52" lengthAdjust="spacingAndGlyphs" filter="url(#th)" >21 Jan 17:00</text>
<text x="322" y="592" font-size="10" fill="#FFFFFF" font-family="Liberation Sans, sans-serif" textLength="52" lengthAdjust="spacingAndGlyphs" filter="url(#th)" >22 Jan 10:00</text>
<text x="386" y="592" font-size="10" fill="#FFFFFF" font-family="Liberation Sans, sans-serif" textLength="52" lengthAdjust="spacingAndGlyphs" filter="url(#th)" >23 Jan 03:00</text>
<text x="450" y="592" font-size="10" fill="#FFFFFF" font-family="Liberation Sans, sans-serif" textLength="52" lengthAdjust="spacingAndGlyphs" filter="url(#th)" >23 Jan 19:00</text>
<text x="514" y="592" font-size="10" fill="#FFFFFF" font-family="Liberation Sans, sans-serif" textLength="52" lengthAdjust="spacingAndGlyphs" filter="url(#th)" >24 Jan 12:00</text>
<text x="578" y="592" font-size="10" fill="#FFFFFF" font-family="Liberation Sans, sans-serif" textLength="52" lengthAdjust="spacingAndGlyphs" filter="url(#th)" >27 Jan 05:00</text>
<rect x="5" y="5" width="58" height="9" fill="#000"/>
<text x="6" y="13" font-size="10" fill="#FFFFFF" font-family="Liberation Sans, sans-serif" textLength="55" lengthAdjust="spacingAndGlyphs" filter="url(#th)" >EURUSD,H1</text>
<rect x="3" y="5" width="744" height="2" fill="#FF0000"/>
<text x="196.3" y="212.7" font-size="17" fill="#FFFF00" font-family="Liberation Sans, sans-serif" stroke="#FFFF00" stroke-width="0.12">(a)</text>
<text x="215.3" y="258.5" font-size="17" fill="#FFFF00" font-family="Liberation Sans, sans-serif" stroke="#FFFF00" stroke-width="0.12">(b)</text>
<text x="232.2" y="177.6" font-size="17" fill="#FFFF00" font-family="Liberation Sans, sans-serif" stroke="#FFFF00" stroke-width="0.12">(c)</text>
<text x="334.3" y="289" font-size="17" fill="#FFFFFF" font-family="Liberation Sans, sans-serif" stroke="#FFFFFF" stroke-width="0.12">(i)</text>
<text x="416.3" y="197" font-size="17" fill="#FFFFFF" font-family="Liberation Sans, sans-serif" stroke="#FFFFFF" stroke-width="0.12">(ii)</text>
<text x="650.3" y="428" font-size="17" fill="#FFFFFF" font-family="Liberation Sans, sans-serif" stroke="#FFFFFF" stroke-width="0.12">(iii)</text>
<text x="702.3" y="355" font-size="17" fill="#FFFFFF" font-family="Liberation Sans, sans-serif" stroke="#FFFFFF" stroke-width="0.12">(iv)</text>
<text x="147.8" y="283" font-size="17" fill="#FFFFFF" font-family="Liberation Sans, sans-serif" stroke="#FFFFFF" stroke-width="0.12">(v)</text>
</svg>
</body></html>
